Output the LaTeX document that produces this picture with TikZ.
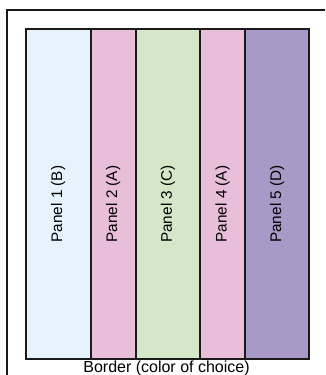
\documentclass[tikz,border=0pt]{standalone}
\usepackage{fontspec}
\setmainfont{Liberation Sans}
\definecolor{colB}{HTML}{E6F2FC}
\definecolor{colA}{HTML}{E8BED8}
\definecolor{colC}{HTML}{D5E6C9}
\definecolor{colD}{HTML}{A899C6}
\definecolor{edge}{HTML}{1A1A1A}
\tikzset{
  panel/.style={draw=edge, line width=1.5pt, inner sep=0pt, minimum height=247.5pt, anchor=west},
  plabel/.style={rotate=90, font=\fontsize{11.5pt}{13pt}\selectfont, inner sep=0pt},
  blabel/.style={font=\fontsize{12pt}{14pt}\selectfont, inner sep=0pt, anchor=base}
}
\begin{document}
\begin{tikzpicture}[x=0.75pt, y=-0.75pt]
\useasboundingbox (0,0) rectangle (325,375);
\clip (0,0) rectangle (325,375);
\draw[edge, line width=1.5pt] (7,10) rectangle (345,395);
\node[panel, fill=colB, minimum width=48.4pt] (p1) at (25,194) {};
\node[panel, fill=colA, minimum width=34.1pt] (p2) at (89.5,194) {};
\node[panel, fill=colC, minimum width=48pt]   (p3) at (135,194) {};
\node[panel, fill=colA, minimum width=34pt]   (p4) at (199,194) {};
\node[panel, fill=colD, minimum width=47.8pt] (p5) at (244.3,194) {};
\node[plabel] (l1) at (p1.center |- 0,204) {Panel 1 (B)};
\node[plabel] (l2) at (p2.center |- 0,204) {Panel 2 (A)};
\node[plabel] (l3) at (p3.center |- 0,204) {Panel 3 (C)};
\node[plabel] (l4) at (p4.center |- 0,204) {Panel 4 (A)};
\node[plabel] (l5) at (p5.center |- 0,204) {Panel 5 (D)};
\node[blabel] (bl) at (166.5,372) {Border (color of choice)};
\end{tikzpicture}
\end{document}
